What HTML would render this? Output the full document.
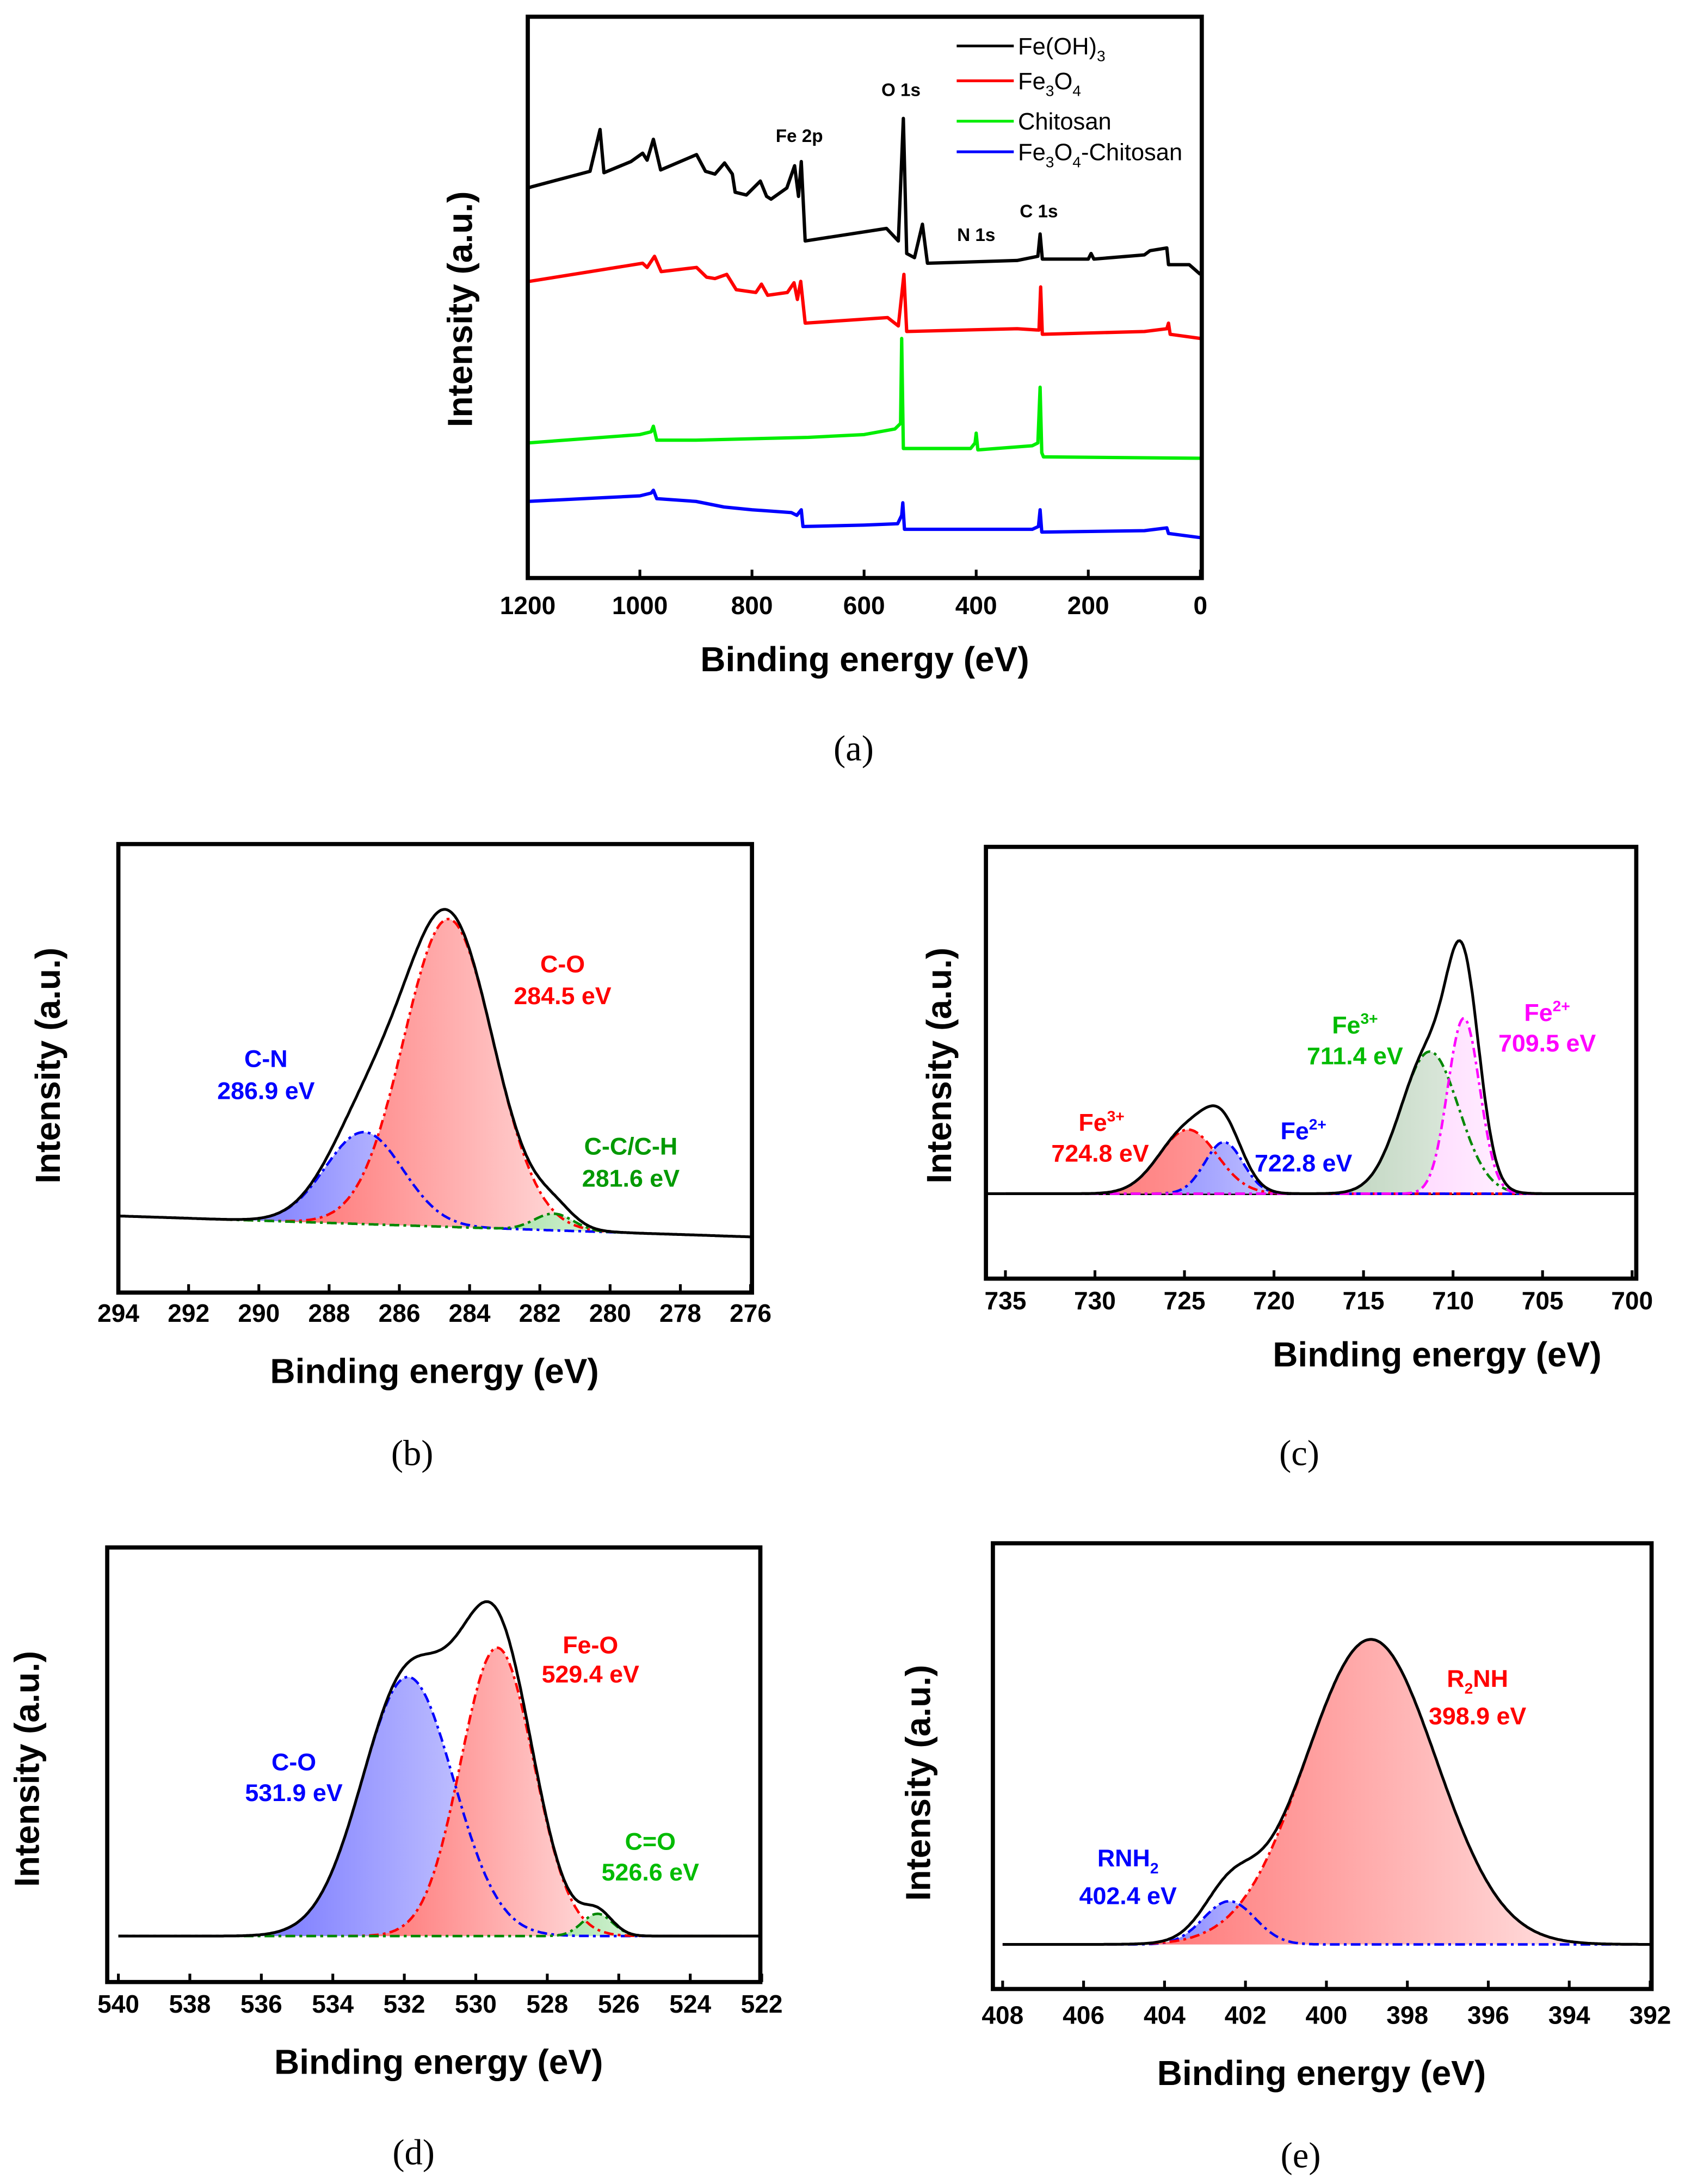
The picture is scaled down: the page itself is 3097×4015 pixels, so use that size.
<!DOCTYPE html>
<html><head><meta charset="utf-8">
<style>
html,body{margin:0;padding:0;background:#fff;}
svg{display:block;}
text{font-family:"Liberation Sans",Arial,sans-serif;}
.t{font-size:18px;font-weight:bold;}
.ax{font-size:25px;font-weight:bold;}
.lb{font-size:17.5px;font-weight:bold;}
.cap{font-family:"Liberation Serif",serif;font-size:26px;}
</style></head>
<body>
<svg id="fig" width="3097" height="4015" viewBox="0 0 1210 1568" preserveAspectRatio="none" xmlns="http://www.w3.org/2000/svg">
<defs>
<linearGradient id="gBlue" x1="0" x2="1" y1="0" y2="0"><stop offset="0" stop-color="#7070ff"/><stop offset="1" stop-color="#e6e6ff"/></linearGradient>
<linearGradient id="gRed" x1="0" x2="1" y1="0" y2="0"><stop offset="0" stop-color="#ff7070"/><stop offset="1" stop-color="#ffeaea"/></linearGradient>
<linearGradient id="gRedC" x1="0" x2="1" y1="0" y2="0"><stop offset="0" stop-color="#ff7878"/><stop offset="1" stop-color="#ffa8a8"/></linearGradient>
<linearGradient id="gBlueC" x1="0" x2="1" y1="0" y2="0"><stop offset="0" stop-color="#9090ff"/><stop offset="1" stop-color="#c8c8ff"/></linearGradient>
<linearGradient id="gGreen" x1="0" x2="1" y1="0" y2="0"><stop offset="0" stop-color="#bcd3bc"/><stop offset="1" stop-color="#eef4ee"/></linearGradient>
<linearGradient id="gMag" x1="0" x2="1" y1="0" y2="0"><stop offset="0" stop-color="#ffd8ff"/><stop offset="1" stop-color="#fff2ff"/></linearGradient>
<linearGradient id="gGreenS" x1="0" x2="1" y1="0" y2="0"><stop offset="0" stop-color="#a0e0a0"/><stop offset="1" stop-color="#e0f5e0"/></linearGradient>
</defs>
<g id="root"></g>
</svg>
<script>
// ---------- Panel (a) survey data ----------
const aTicks = [1200,1000,800,600,400,200,0];
const feohE = [1200,1192,1089,1071,1064,1016,995,987,976,963,899,883,866,849,835,830,810,785,774,766,738,724,717,712,705,560,539,530,524,510,496,487,327,290,286,282,200,195,190,100,90,60,57,20,0];
const feohI = [280,281,292,322,291,299,305,300,315,293,304,292,290,298,290,277,275,285,274,272,280,296,274,299,242,251,242,330,233,230,254,226,228,231,247,229,229,233,229,232,235,237,225,225,218];
const fe3o4E = [1200,1197,995,987,974,962,899,881,866,845,828,793,783,772,737,725,719,713,705,558,539,529,524,327,288,285,282,100,60,57,54,0];
const fe3o4I = [213,213,226,223,231,220,223,216,215,218,207,205,211,203,205,212,200,213,183,187,181,218,177,179,178,209,175,177,179,183,175,172];
const chitE = [1200,1100,1000,980,976,970,900,700,600,545,535,533,530,410,402,400,397,300,290,286,283,280,0];
const chitI = [97,100,103,105,109,99,99,101,103,107,111,172,93,93,97,104,92,95,97,137,90,87,86];
const compE = [1200,1100,1000,980,976,970,900,850,800,730,720,712,709,600,540,533,531,528,400,300,289,286,283,100,60,57,0];
const compI = [55,57,59,61,63,57,55,51,49,47,45,49,37,38,39,45,54,35,35,35,37,49,33,34,36,32,29];

// ---------- Panel (b) C 1s ----------
const bTicks = [294,292,290,288,286,284,282,280,278,276];
const bCenters = [287.0,284.6,281.6];
const bHeights = [66,221,12];
const bFwhm = [2.6,3.0,1.3];
const bBackground = [0,-15];
// ---------- Panel (c) Fe 2p ----------
const cTicks = [735,730,725,720,715,710,705,700];
const cCenters = [724.8,722.8,711.3,709.4];
const cHeights = [46,37,102,126];
const cFwhm = [3.8,2.5,3.8,2.1];
// ---------- Panel (d) O 1s ----------
const dTicks = [540,538,536,534,532,530,528,526,524,522];
const dCenters = [531.9,529.4,526.6];
const dHeights = [186,207,16];
const dFwhm = [3.0,2.4,1.0];
// ---------- Panel (e) N 1s ----------
const eTicks = [408,406,404,402,400,398,396,394,392];
const eCenters = [402.4,398.9];
const eHeights = [31,219];
const eFwhm = [1.5,3.8];

const NS='http://www.w3.org/2000/svg';
const root=document.getElementById('root');
function mk(tag,attrs,parent){const e=document.createElementNS(NS,tag);for(const k in attrs)e.setAttribute(k,attrs[k]);(parent||root).appendChild(e);return e;}
function txt(x,y,s,cls,fill,anchor,parent){const t=mk('text',{x:x,y:y,class:cls,fill:fill||'#000','text-anchor':anchor||'middle'},parent);t.textContent=s;return t;}
function lin(d0,d1,r0,r1){return v=>r0+(v-d0)*(r1-r0)/(d1-d0);}

function frame(g,x0,y0,x1,y1,ticks,xs,tickY,nameP){
  const r=mk('rect',{x:x0,y:y0,width:x1-x0,height:y1-y0,fill:'none',stroke:'#000','stroke-width':3},g);
  
  
  ticks.forEach(v=>{
    const tk=mk('line',{x1:xs(v),x2:xs(v),y1:y1,y2:y1-6,stroke:'#000','stroke-width':2},g);
    
    
    const tl=txt(xs(v),tickY,String(v),'t','#000','middle',g);
    
    
  });
}
function axisTitles(g,xc,xy,yx,yc,nameP){
  const xt=txt(xc,xy,'Binding energy (eV)','ax','#000','middle',g);
  
  
  const yt=txt(0,0,'Intensity (a.u.)','ax','#000','middle',g);
  yt.setAttribute('transform','translate('+yx+','+yc+') rotate(-90)');
  
  
}
function caption(x,y,s,nameP){
  const c=txt(x,y,s,'cap');
  
  
}
function gauss(x,c,h,w){return h*Math.exp(-4*Math.LN2*Math.pow((x-c)/w,2));}

// ----- Panel a -----
(function(){
  const g=mk('g',{});
  
  
  const xs=lin(1200,0,379,862), ys=v=>415-v;
  const series=[[feohE,feohI,'#000','series-feoh3'],[fe3o4E,fe3o4I,'#f00','series-fe3o4'],[chitE,chitI,'#0e0','series-chitosan'],[compE,compI,'#00f','series-fe3o4-chitosan']];
  series.forEach(s=>{
    const d=s[0].map((e,i)=>(i?'L':'M')+xs(e).toFixed(1)+' '+ys(s[1][i]).toFixed(1)).join(' ');
    const p=mk('path',{d:d,fill:'none',stroke:s[2],'stroke-width':2.4,'stroke-linejoin':'round'},g);
    
    
  });
  frame(g,379,12,863,415,aTicks,xs,441,'survey');
  axisTitles(g,621,482,339,222,'survey');
  const legs=[['Fe(OH)','3','','#000',33],['Fe','3','O','#f00',58],['Chitosan','','','#0e0',87],['Fe','3','O','#00f',109]];
  legs.forEach((l,i)=>{
    const ln=mk('line',{x1:687,x2:728,y1:l[4],y2:l[4],stroke:l[3],'stroke-width':2},g);
    
    
    const t=mk('text',{x:731,y:l[4]+6,'font-size':17,fill:'#000'},g);
    
    
    if(i===0){t.innerHTML='Fe(OH)<tspan font-size="11" dy="5">3</tspan>';}
    else if(i===1){t.innerHTML='Fe<tspan font-size="11" dy="5">3</tspan><tspan dy="-5">O</tspan><tspan font-size="11" dy="5">4</tspan>';}
    else if(i===2){t.textContent='Chitosan';}
    else {t.innerHTML='Fe<tspan font-size="11" dy="5">3</tspan><tspan dy="-5">O</tspan><tspan font-size="11" dy="5">4</tspan><tspan dy="-5">-Chitosan</tspan>';}
  });
  [['Fe 2p',574,102],['O 1s',647,69],['N 1s',701,173],['C 1s',746,156]].forEach(p=>{
    const t=mk('text',{x:p[1],y:p[2],'font-size':13,'font-weight':'bold','text-anchor':'middle'},g);
    t.textContent=p[0];
    
    
  });
  caption(613,546,'(a)','panel-a');
})();

function fitPanel(o){
  const g=mk('g',{});
  
  
  const xs=lin(o.ticks[0],o.ticks[o.ticks.length-1],o.px0,o.px1);
  const lo=Math.min(o.ticks[0],o.ticks[o.ticks.length-1]), hi=Math.max(o.ticks[0],o.ticks[o.ticks.length-1]);
  const bg=e=>o.bgv?lin(o.ticks[0],o.ticks[o.ticks.length-1],o.bgv[0],o.bgv[1])(e):0;
  const ys=v=>o.base-v;
  const N=400, es=[];
  for(let i=0;i<=N;i++)es.push(hi-(hi-lo)*i/N);
  if(o.hline){const h=mk('line',{x1:o.fx0,x2:o.fx1,y1:o.base,y2:o.base,stroke:'#000','stroke-width':2},g);
    
    }
  o.centers.forEach((c,k)=>{
    const fillPts=es.filter(e=>Math.abs(e-c)<o.fwhm[k]*1.6);
    const fd='M'+fillPts.map(e=>xs(e).toFixed(1)+' '+ys(bg(e)+gauss(e,c,o.heights[k],o.fwhm[k])).toFixed(1)).join(' L')+' L'+xs(fillPts[fillPts.length-1]).toFixed(1)+' '+ys(bg(fillPts[fillPts.length-1])).toFixed(1)+' L'+xs(fillPts[0]).toFixed(1)+' '+ys(bg(fillPts[0])).toFixed(1)+'Z';
    const f=mk('path',{d:fd,fill:o.fills[k],stroke:'none'},g);
    
    
  });
  o.centers.forEach((c,k)=>{
    const d='M'+es.map(e=>xs(e).toFixed(1)+' '+ys(bg(e)+gauss(e,c,o.heights[k],o.fwhm[k])).toFixed(1)).join(' L');
    const p=mk('path',{d:d,fill:'none',stroke:o.lines[k],'stroke-width':1.8,'stroke-dasharray':'7 3 2 3'},g);
    
    
  });
  const d='M'+es.map(e=>{let s=bg(e);o.centers.forEach((c,k)=>{s+=gauss(e,c,o.heights[k],o.fwhm[k]);});return xs(e).toFixed(1)+' '+ys(s).toFixed(1);}).join(' L');
  const env=mk('path',{d:d,fill:'none',stroke:'#000','stroke-width':2},g);
  
  
  frame(g,o.fx0,o.fy0,o.fx1,o.fy1,o.ticks,xs,o.tickY,o.name);
  axisTitles(g,o.xt[0],o.xt[1],o.yt[0],o.yt[1],o.name);
  o.labels.forEach(l=>{
    const t=mk('text',{x:l[0],y:l[1],class:'lb',fill:l[3],'text-anchor':'middle'},g);
    t.innerHTML=l[2];
    
    
  });
  caption(o.cap[0],o.cap[1],o.cap[2],o.name);
}

fitPanel({name:'panel-b-c1s',ticks:bTicks,px0:85,px1:539,base:873,bgv:bBackground,centers:bCenters,heights:bHeights,fwhm:bFwhm,
  fills:['url(#gBlue)','url(#gRed)','url(#gGreenS)'],lines:['#00f','#f00','#080'],
  fx0:85,fy0:606,fx1:540,fy1:928,tickY:949,xt:[312,993],yt:[43,765],
  labels:[[404,698,'C-O','#f00'],[404,721,'284.5 eV','#f00'],[191,766,'C-N','#00f'],[191,789,'286.9 eV','#00f'],[453,829,'C-C/C-H','#090'],[453,852,'281.6 eV','#090']],
  cap:[296,1052,'(b)']});
fitPanel({name:'panel-c-fe2p',ticks:cTicks,px0:722,px1:1172,base:857,centers:cCenters,heights:cHeights,fwhm:cFwhm,hline:true,
  fills:['url(#gRedC)','url(#gBlueC)','url(#gGreen)','url(#gMag)'],lines:['#f00','#00f','#080','#f0f'],
  fx0:708,fy0:608,fx1:1175,fy1:918,tickY:940,xt:[1032,981],yt:[683,765],
  labels:[[791,812,'Fe<tspan font-size="11" dy="-7">3+</tspan>','#f00'],[790,834,'724.8 eV','#f00'],[936,818,'Fe<tspan font-size="11" dy="-7">2+</tspan>','#00f'],[936,841,'722.8 eV','#00f'],[973,742,'Fe<tspan font-size="11" dy="-7">3+</tspan>','#0b0'],[973,764,'711.4 eV','#0b0'],[1111,733,'Fe<tspan font-size="11" dy="-7">2+</tspan>','#f0f'],[1111,755,'709.5 eV','#f0f']],
  cap:[933,1052,'(c)']});
fitPanel({name:'panel-d-o1s',ticks:dTicks,px0:85,px1:547,base:1390,centers:dCenters,heights:dHeights,fwhm:dFwhm,
  fills:['url(#gBlue)','url(#gRed)','url(#gGreenS)'],lines:['#00f','#f00','#080'],
  fx0:77,fy0:1111,fx1:546,fy1:1423,tickY:1445,xt:[315,1489],yt:[28,1270],
  labels:[[424,1187,'Fe-O','#f00'],[424,1208,'529.4 eV','#f00'],[211,1271,'C-O','#00f'],[211,1293,'531.9 eV','#00f'],[467,1328,'C=O','#0b0'],[467,1350,'526.6 eV','#0b0']],
  cap:[297,1554,'(d)']});
fitPanel({name:'panel-e-n1s',ticks:eTicks,px0:720,px1:1185,base:1396,centers:eCenters,heights:eHeights,fwhm:eFwhm,
  fills:['url(#gBlue)','url(#gRed)'],lines:['#00f','#f00'],
  fx0:713,fy0:1108,fx1:1186,fy1:1428,tickY:1453,xt:[949,1497],yt:[668,1280],
  labels:[[1061,1211,'R<tspan font-size="11" dy="5">2</tspan><tspan dy="-5">NH</tspan>','#f00'],[1061,1238,'398.9 eV','#f00'],[810,1340,'RNH<tspan font-size="11" dy="5">2</tspan>','#00f'],[810,1367,'402.4 eV','#00f']],
  cap:[934,1556,'(e)']});
</script>
</body></html>
